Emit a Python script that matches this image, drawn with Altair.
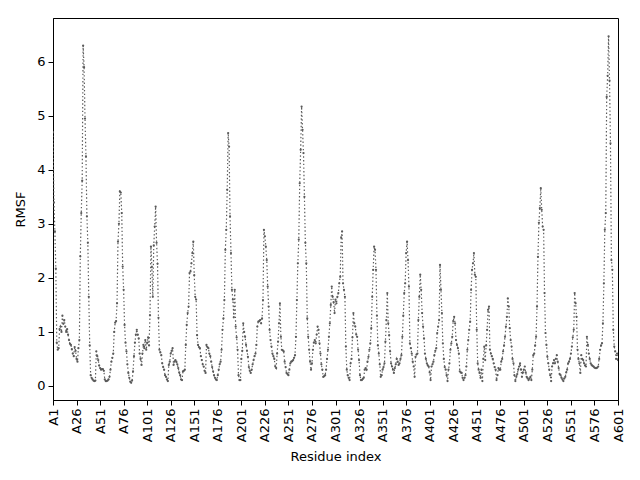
import altair as alt
import pandas as pd

rmsf_001_025 = [4.7, 3.4, 2.86, 2.17, 0.8, 0.67, 0.7, 1.05, 1.1, 1.0, 1.3, 1.15, 1.22, 1.1, 1.0, 1.05, 0.95, 0.85, 0.78, 0.76, 0.68, 0.6, 0.55, 0.72, 0.65]
rmsf_026_050 = [0.5, 0.45, 0.7, 0.85, 2.4, 3.2, 3.8, 6.3, 5.9, 4.95, 4.25, 3.14, 2.65, 1.65, 0.75, 0.2, 0.15, 0.12, 0.1, 0.09, 0.1, 0.64, 0.55, 0.48, 0.38]
rmsf_051_075 = [0.33, 0.3, 0.31, 0.31, 0.28, 0.12, 0.09, 0.09, 0.1, 0.12, 0.17, 0.3, 0.45, 0.52, 0.6, 1.0, 1.17, 1.2, 1.53, 2.67, 3.0, 3.6, 3.58, 3.2, 2.21]
rmsf_076_100 = [1.78, 1.13, 0.8, 0.64, 0.4, 0.24, 0.15, 0.08, 0.06, 0.1, 0.27, 0.55, 0.8, 0.95, 1.04, 0.95, 0.88, 0.6, 0.5, 0.39, 0.6, 0.76, 0.7, 0.85, 0.67]
rmsf_101_125 = [0.8, 0.9, 0.75, 1.31, 2.58, 2.2, 1.65, 2.6, 2.95, 3.32, 2.65, 2.26, 1.26, 0.67, 0.62, 0.57, 0.42, 0.35, 0.3, 0.2, 0.17, 0.12, 0.09, 0.39, 0.45]
rmsf_126_150 = [0.6, 0.65, 0.7, 0.39, 0.45, 0.48, 0.45, 0.4, 0.33, 0.25, 0.2, 0.12, 0.11, 0.27, 0.28, 0.3, 0.76, 1.13, 1.35, 1.47, 2.09, 2.12, 2.27, 2.46, 2.67]
rmsf_151_175 = [2.05, 1.65, 1.6, 0.94, 0.76, 0.72, 0.7, 0.55, 0.48, 0.4, 0.36, 0.28, 0.24, 0.76, 0.72, 0.7, 0.6, 0.55, 0.45, 0.35, 0.27, 0.2, 0.15, 0.12, 0.11]
rmsf_176_200 = [0.2, 0.3, 0.4, 0.45, 0.67, 1.04, 1.25, 1.59, 2.52, 2.89, 3.63, 4.68, 4.43, 3.14, 2.46, 1.78, 1.6, 1.27, 1.78, 1.1, 0.9, 0.67, 0.2, 0.11, 0.11]
rmsf_201_225 = [0.5, 0.65, 1.16, 1.0, 0.91, 0.76, 0.65, 0.54, 0.35, 0.28, 0.24, 0.3, 0.4, 0.48, 0.55, 0.6, 0.76, 1.1, 1.19, 1.2, 1.22, 1.16, 1.25, 1.59, 2.89]
rmsf_226_250 = [2.77, 2.58, 2.33, 1.84, 1.47, 1.04, 0.85, 0.73, 0.6, 0.55, 0.5, 0.36, 0.33, 0.6, 0.82, 1.16, 1.53, 0.91, 0.67, 0.66, 0.64, 0.45, 0.35, 0.24, 0.22]
rmsf_251_275 = [0.2, 0.3, 0.42, 0.45, 0.46, 0.48, 0.52, 0.57, 0.91, 1.59, 2.27, 2.71, 3.75, 4.37, 5.17, 4.74, 4.31, 3.5, 2.65, 2.27, 1.25, 0.91, 0.67, 0.45, 0.3]
rmsf_276_300 = [0.42, 0.67, 0.8, 0.85, 0.79, 0.95, 1.1, 1.04, 0.79, 0.6, 0.4, 0.3, 0.17, 0.18, 0.2, 0.3, 0.5, 0.67, 0.91, 1.16, 1.5, 1.84, 1.65, 1.55, 1.35]
rmsf_301_325 = [1.6, 1.53, 1.65, 1.72, 1.9, 2.02, 2.75, 2.86, 1.9, 1.78, 1.65, 0.73, 0.3, 0.2, 0.15, 0.11, 0.42, 0.5, 0.9, 1.35, 1.16, 1.1, 0.95, 0.91, 0.67]
rmsf_326_350 = [0.48, 0.2, 0.11, 0.11, 0.13, 0.15, 0.3, 0.33, 0.3, 0.45, 0.54, 0.67, 0.79, 1.07, 1.65, 2.15, 2.58, 2.52, 2.15, 1.3, 0.75, 0.6, 0.4, 0.17, 0.2]
rmsf_351_375 = [0.3, 0.35, 0.42, 0.82, 1.22, 1.72, 1.16, 0.94, 0.64, 0.42, 0.36, 0.3, 0.24, 0.33, 0.4, 0.5, 0.45, 0.39, 0.42, 0.5, 0.57, 0.91, 1.3, 1.72, 1.9]
rmsf_376_400 = [2.46, 2.67, 2.33, 1.84, 0.79, 0.7, 0.6, 0.45, 0.36, 0.17, 0.54, 0.58, 0.6, 1.22, 1.65, 2.06, 1.78, 1.35, 1.1, 0.88, 0.6, 0.5, 0.42, 0.38, 0.36]
rmsf_401_425 = [0.25, 0.11, 0.36, 0.4, 0.45, 0.57, 0.65, 0.7, 0.98, 1.1, 1.22, 2.24, 1.78, 1.35, 0.79, 0.5, 0.35, 0.3, 0.2, 0.09, 0.3, 0.42, 0.67, 0.79, 0.91]
rmsf_426_450 = [1.2, 1.28, 1.16, 0.85, 0.76, 0.7, 0.6, 0.27, 0.25, 0.24, 0.15, 0.11, 0.15, 0.2, 0.36, 0.67, 0.85, 1.04, 1.19, 1.78, 2.15, 2.27, 2.46, 2.06, 2.02]
rmsf_451_475 = [1.04, 0.42, 0.3, 0.24, 0.15, 0.3, 0.09, 0.5, 0.73, 0.48, 0.75, 1.04, 1.41, 1.47, 0.67, 0.6, 0.55, 0.5, 0.42, 0.35, 0.3, 0.11, 0.2, 0.33, 0.3]
rmsf_476_500 = [0.3, 0.45, 0.5, 0.64, 0.75, 0.91, 1.1, 1.28, 1.62, 1.47, 1.07, 0.85, 0.73, 0.5, 0.42, 0.2, 0.09, 0.17, 0.22, 0.3, 0.36, 0.42, 0.3, 0.17, 0.25]
rmsf_501_525 = [0.3, 0.36, 0.25, 0.17, 0.14, 0.11, 0.14, 0.17, 0.11, 0.3, 0.57, 0.6, 0.75, 0.91, 1.47, 2.39, 3.02, 3.29, 3.66, 3.26, 2.95, 2.89, 1.72, 0.98, 0.76]
rmsf_526_550 = [0.54, 0.42, 0.3, 0.2, 0.09, 0.36, 0.42, 0.48, 0.42, 0.5, 0.57, 0.45, 0.33, 0.22, 0.2, 0.15, 0.12, 0.09, 0.14, 0.17, 0.25, 0.3, 0.42, 0.45, 0.5]
rmsf_551_575 = [0.6, 0.73, 0.9, 1.04, 1.72, 1.53, 1.28, 0.67, 0.5, 0.42, 0.24, 0.57, 0.5, 0.48, 0.42, 0.38, 0.36, 0.91, 0.76, 0.6, 0.5, 0.42, 0.39, 0.37, 0.36]
rmsf_576_601 = [0.34, 0.33, 0.33, 0.34, 0.36, 0.5, 0.67, 0.75, 0.79, 1.16, 1.9, 2.89, 3.2, 5.35, 5.74, 6.47, 5.65, 4.49, 2.33, 2.15, 1.04, 0.73, 0.64, 0.5, 0.6, 0.48]

rmsf = (rmsf_001_025 + rmsf_026_050 + rmsf_051_075 + rmsf_076_100 + rmsf_101_125 +
        rmsf_126_150 + rmsf_151_175 + rmsf_176_200 + rmsf_201_225 + rmsf_226_250 +
        rmsf_251_275 + rmsf_276_300 + rmsf_301_325 + rmsf_326_350 + rmsf_351_375 +
        rmsf_376_400 + rmsf_401_425 + rmsf_426_450 + rmsf_451_475 + rmsf_476_500 +
        rmsf_501_525 + rmsf_526_550 + rmsf_551_575 + rmsf_576_601)
residues = list(range(1, len(rmsf) + 1))

x_ticks = [1, 26, 51, 76, 101, 126, 151, 176, 201, 226, 251, 276, 301, 326, 351,
           376, 401, 426, 451, 476, 501, 526, 551, 576, 601]
y_ticks = [0, 1, 2, 3, 4, 5, 6]

df = pd.DataFrame({"residue": residues, "rmsf": rmsf})

color = "#5a5a5a"
font = "DejaVu Sans"

x_enc = alt.X("residue:Q",
              scale=alt.Scale(domain=[1, 601], nice=False, zero=False),
              axis=alt.Axis(values=x_ticks, tickCount=40, labelExpr="'A' + datum.value",
                            labelAngle=270, title="Residue index", grid=False,
                            labelOverlap=False, labelBound=False, labelFlush=False,
                            tickSize=5, labelPadding=3, titlePadding=9,
                            labelFontSize=13, titleFontSize=13))
y_enc = alt.Y("rmsf:Q",
              scale=alt.Scale(domain=[-0.26, 6.81], nice=False, zero=False),
              axis=alt.Axis(values=y_ticks, tickCount=10, format="d", title="RMSF", grid=False,
                            labelOverlap=False, labelFlush=False,
                            tickSize=5, labelPadding=3, titlePadding=9,
                            labelFontSize=13, titleFontSize=13))

line = alt.Chart(df).mark_line(color=color, strokeWidth=1.2,
                               strokeDash=[1.4, 2.3], clip=True).encode(x=x_enc, y=y_enc)
pts = alt.Chart(df).mark_point(color=color, filled=True, size=5, opacity=1,
                               clip=True).encode(x="residue:Q", y="rmsf:Q")

chart = (line + pts).properties(
    width=565, height=382,
    autosize=alt.AutoSizeParams(type="none"),
    padding={"left": 45, "top": 10, "right": 14, "bottom": 76},
).configure_view(stroke="black", strokeWidth=1).configure_axis(
    domainColor="black", tickColor="black", labelColor="black", titleColor="black",
    labelFont=font, titleFont=font, titleFontWeight="normal", domainWidth=1
)

chart.save("out.html", embed_options={"renderer": "svg", "actions": False})
